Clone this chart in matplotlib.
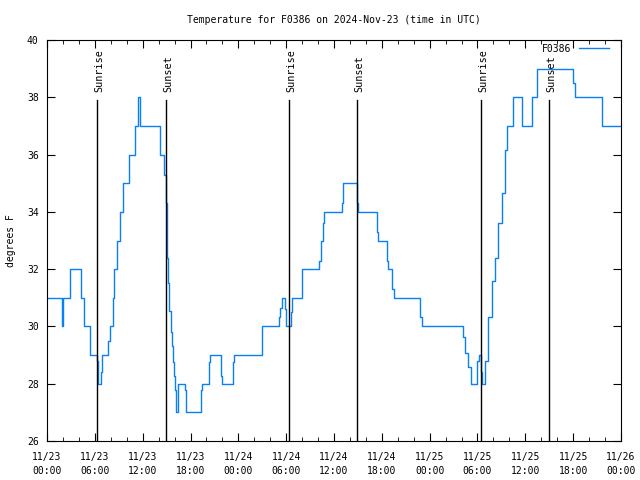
import numpy as np
import matplotlib.pyplot as plt

# hours since 2024-11-23 00:00 UTC, temperature (F) held until next time
hours = [0.0, 1.85, 2.05, 2.89, 4.23, 4.68, 5.39, 6.23, 6.36, 6.74,
         6.9, 7.7, 7.9, 8.24, 8.4, 8.74, 9.16, 9.57, 10.32, 11.04,
         11.38, 11.67, 14.17, 14.68, 14.93, 15.0, 15.1, 15.22, 15.34, 15.55,
         15.72, 15.84, 15.97, 16.09, 16.22, 16.47, 17.3, 17.47, 19.36, 19.48,
         20.32, 20.45, 21.86, 21.99, 23.37, 23.5, 27.01, 29.1, 29.27, 29.52,
         29.85, 30.02, 30.6, 30.77, 31.99, 34.16, 34.37, 34.66, 34.78, 37.04,
         37.17, 38.85, 38.97, 41.39, 41.48, 42.61, 42.74, 43.31, 43.49, 46.83,
         47.0, 52.14, 52.43, 52.85, 53.15, 53.97, 54.19, 54.44, 54.6, 54.98,
         55.36, 55.78, 56.2, 56.61, 57.04, 57.45, 57.74, 58.49, 59.55, 60.8,
         61.5, 65.94, 66.23, 69.58, 72.0]
temps = [31, 30, 31, 32, 31, 30, 29, 28.8, 28, 28.4,
         29, 29.5, 30, 31, 32, 33, 34, 35, 36, 37,
         38, 37, 36, 35.3, 34.3, 33.4, 32.4, 31.5, 30.55, 29.8,
         29.3, 28.76, 28.27, 27.78, 27, 28, 27.78, 27, 27.78, 28,
         28.76, 29, 28.27, 28, 28.76, 29, 30, 30.34, 30.63, 31,
         30.6, 30, 30.5, 31, 32, 32.3, 33, 33.6, 34, 34.3,
         35, 34.3, 34, 33.3, 33, 32.3, 32, 31.3, 31, 30.34,
         30, 29.64, 29.06, 28.6, 28, 28.8, 29, 28.4, 28, 28.8,
         30.34, 31.6, 32.4, 33.6, 34.65, 36.16, 37, 38, 37, 38,
         39, 38.5, 38, 37, 37]

sun_times = [6.3, 14.93, 30.38, 38.93, 54.47, 63.0]
sun_labels = ['Sunrise', 'Sunset', 'Sunrise', 'Sunset', 'Sunrise', 'Sunset']

tick_hours = list(range(0, 73, 6))
tick_labels = ['11/%d\n%02d:00' % (23 + h // 24, h % 24) for h in tick_hours]

plt.rcParams['font.family'] = 'DejaVu Sans Mono'
plt.rcParams['font.size'] = 7

fig = plt.figure(figsize=(6.4, 4.8), dpi=100)
ax = fig.add_axes([47/640, 39/480, 574/640, 401/480])

ax.plot(hours, temps, drawstyle='steps-post', color='#0a80f5', lw=1, label='F0386')

for t, lab in zip(sun_times, sun_labels):
    ax.plot([t, t], [26, 37.9], color='black', lw=1)
    ax.text(t + 0.25, 38.18, lab, rotation=90, ha='center', va='bottom',
            fontsize=7.3)

ax.set_xlim(0, 72)
ax.set_ylim(26, 40)
ax.set_xticks(tick_hours)
ax.set_xticklabels(tick_labels, linespacing=1.45)
ax.set_xticks(range(0, 73, 2), minor=True)
ax.set_yticks(range(26, 41, 2))
ax.tick_params(which='both', direction='in', top=True, right=True, pad=6)
ax.tick_params(which='major', length=6)
ax.tick_params(which='minor', length=3)
ax.tick_params(axis='x', pad=8)

ax.set_ylabel('degrees F', labelpad=8)
ax.set_title('Temperature for F0386 on 2024-Nov-23 (time in UTC)', pad=12,
             fontsize=7)

ax.legend(loc='upper right', frameon=False, markerfirst=False, handlelength=3.0,
          borderaxespad=0.2, handletextpad=0.8, borderpad=0.2,
          bbox_to_anchor=(0.985, 1.0))

fig.savefig('out.png', dpi=100)
